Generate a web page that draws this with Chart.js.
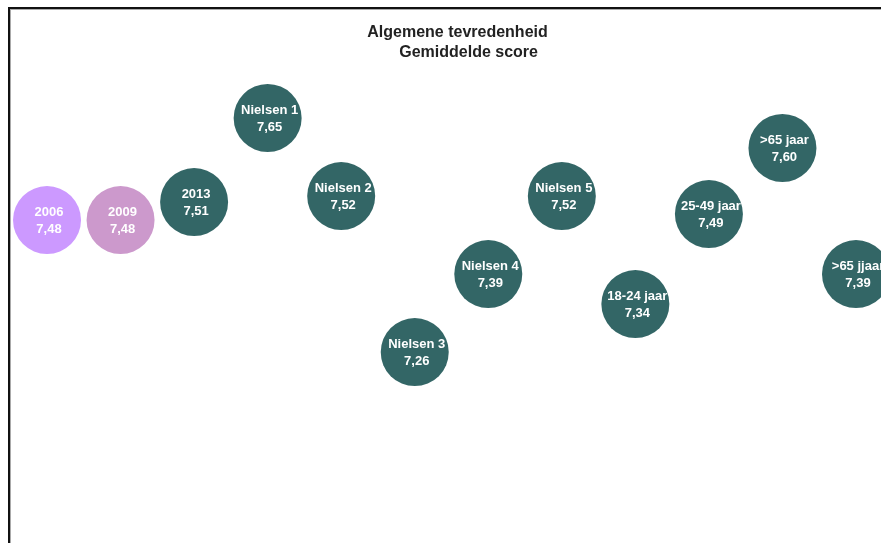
<!DOCTYPE html>
<html>
<head>
<meta charset="utf-8">
<script src="https://cdn.jsdelivr.net/npm/chart.js@4"></script>
<style>
	body { margin: 0; background: #fff; overflow: hidden; }
	#kader {
		position: absolute; left: 8px; top: 7px; width: 900px; height: 560px;
		border-left: 2px solid #111; border-top: 2px solid #111;
		box-shadow: inset 1px 1px 0 #aaa;
	}
	#grafiek { position: absolute; left: 0; top: 0; }
</style>
</head>
<body>
<div id="kader"></div>
<canvas id="grafiek" width="881" height="543"></canvas>
<script>
// categorieen en gemiddelde scores
const categorieen = ['2006', '2009', '2013', 'Nielsen 1', 'Nielsen 2', 'Nielsen 3', 'Nielsen 4', 'Nielsen 5', '18-24 jaar', '25-49 jaar', '>65 jaar', '>65 jjaar'];
const scores = [7.48, 7.48, 7.51, 7.65, 7.52, 7.26, 7.39, 7.52, 7.34, 7.49, 7.60, 7.39];
const kleuren = ['#cc99ff', '#cc99cc', '#336666', '#336666', '#336666', '#336666', '#336666', '#336666', '#336666', '#336666', '#336666', '#336666'];

const straal = 34;

// tekst in de bol, afgeknipt op de rand van de cirkel
const bolLabels = {
	id: 'bolLabels',
	afterDatasetsDraw(chart) {
		const ctx = chart.ctx;
		chart.getDatasetMeta(0).data.forEach((el, i) => {
			ctx.save();
			ctx.beginPath();
			ctx.arc(el.x, el.y, straal, 0, Math.PI * 2);
			ctx.clip();
			ctx.fillStyle = '#fff';
			ctx.font = 'bold 13px "Liberation Sans", Arial, sans-serif';
			ctx.textAlign = 'center';
			ctx.textBaseline = 'middle';
			ctx.fillText(categorieen[i], el.x + 2, el.y - 8);
			ctx.fillText(scores[i].toFixed(2).replace('.', ','), el.x + 2, el.y + 9);
			ctx.restore();
		});
	}
};

new Chart(document.getElementById('grafiek'), {
	type: 'bubble',
	data: {
		labels: categorieen,
		datasets: [{
			data: scores.map((s, i) => ({ x: i, y: s, r: straal })),
			backgroundColor: kleuren,
			borderWidth: 0,
			clip: false
		}]
	},
	options: {
		responsive: false,
		animation: false,
		devicePixelRatio: 1,
		layout: { autoPadding: false, padding: { left: 34, top: 13, right: 0, bottom: 0 } },
		scales: {
			x: { display: false, min: -0.177, max: 11.34 },
			y: { display: false, min: 6.942, max: 7.725 }
		},
		plugins: {
			legend: { display: false },
			tooltip: { enabled: false },
			title: {
				display: true,
				text: ['Algemene tevredenheid', '     Gemiddelde score'],
				color: '#222',
				font: { family: '"Liberation Sans", Arial, sans-serif', size: 16, weight: 'bold', lineHeight: 1.25 },
				padding: { top: 10, bottom: 10 }
			}
		}
	},
	plugins: [bolLabels]
});
</script>
</body>
</html>
